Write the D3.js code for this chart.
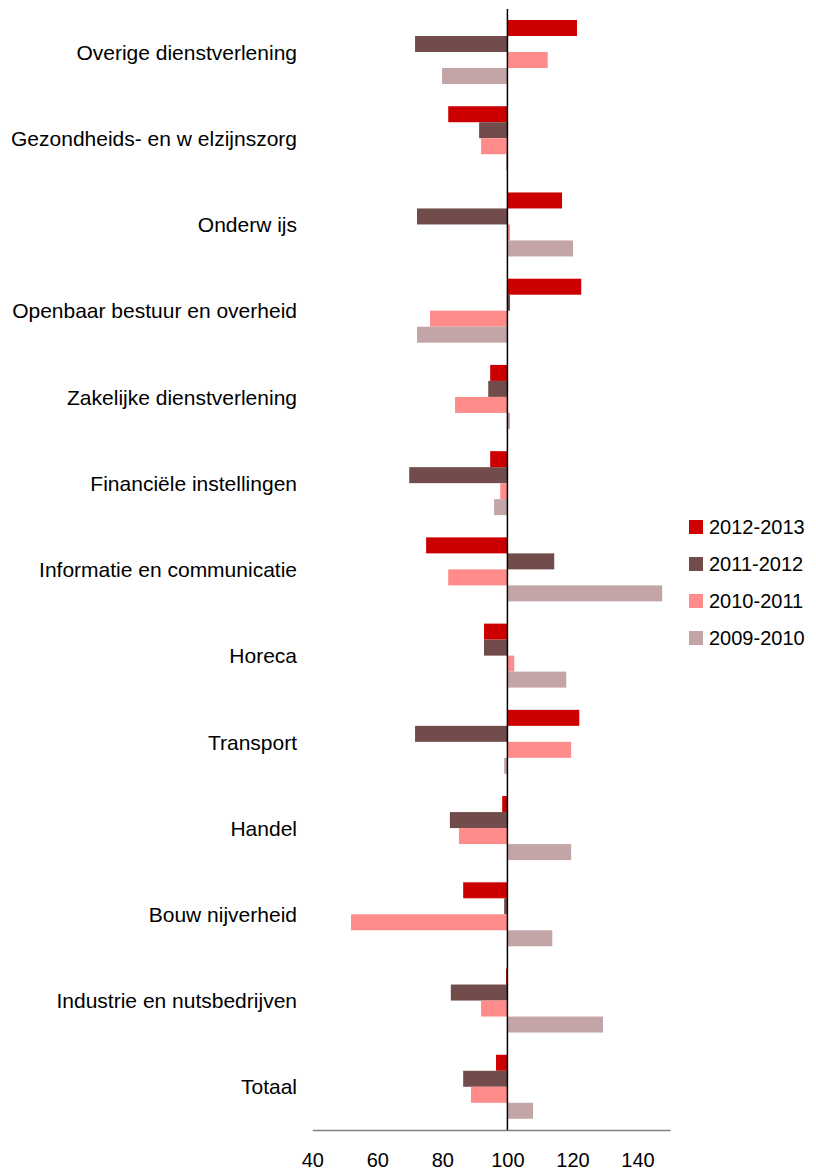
<!DOCTYPE html>
<html>
<head>
<meta charset="utf-8">
<script src="https://cdn.jsdelivr.net/npm/d3@7"></script>
<style>
  html, body { margin: 0; padding: 0; background: #fff; }
  svg { display: block; font-family: "Liberation Sans", Arial, Helvetica, sans-serif; }
</style>
</head>
<body>
<svg id="chart" width="816" height="1174"></svg>
<script>
// Sectors, top to bottom
const categories = [
  "Overige dienstverlening",
  "Gezondheids- en w elzijnszorg",
  "Onderw ijs",
  "Openbaar bestuur en overheid",
  "Zakelijke dienstverlening",
  "Financiële instellingen",
  "Informatie en communicatie",
  "Horeca",
  "Transport",
  "Handel",
  "Bouw nijverheid",
  "Industrie en nutsbedrijven",
  "Totaal"
];

// Periods, in the order the bars are stacked inside each sector
const periods = ["2012-2013", "2011-2012", "2010-2011", "2009-2010"];

// Index values (100 = previous year), one array per period
const v2012_2013 = [121.4, 81.8, 116.8, 122.7, 94.7, 94.7, 75.0, 92.8, 122.1, 98.4, 86.4, 99.6, 96.5];
const v2011_2012 = [71.6, 91.3, 72.2, 100.8, 94.1, 69.8, 114.4, 92.8, 71.6, 82.3, 99.0, 82.6, 86.4];
const v2010_2011 = [112.4, 91.9, 100.8, 76.2, 83.9, 97.8, 81.8, 102.1, 119.6, 85.1, 51.9, 91.9, 88.8];
const v2009_2010 = [79.9, 99.6, 120.2, 72.2, 100.8, 95.9, 147.6, 118.1, 99.0, 119.6, 113.8, 129.4, 107.9];

const tickValues = [40, 60, 80, 100, 120, 140];
const baseline = 100;

const colors = ["#cc0000", "#724b4b", "#ff8b8b", "#c4a5a7"];

const seriesValues = [v2012_2013, v2011_2012, v2010_2011, v2009_2010];
const rows = categories.map((c, i) => ({
  category: c,
  values: periods.map((p, k) => ({ period: p, value: seriesValues[k][i] }))
}));

const svg = d3.select("#chart");

const x = d3.scaleLinear().domain([40, 150]).range([312.3, 670]);
const y = d3.scaleBand().domain(categories).range([9, 1130]).padding(0);
const yInner = d3.scaleBand().domain(periods).range([11, 11 + 64]).padding(0);
const color = d3.scaleOrdinal().domain(periods).range(colors);

// Bars
const groups = svg.append("g").selectAll("g")
  .data(rows)
  .join("g")
  .attr("transform", d => `translate(0,${y(d.category)})`);

groups.selectAll("rect")
  .data(d => d.values)
  .join("rect")
  .attr("x", d => x(Math.min(d.value, baseline)))
  .attr("width", d => Math.abs(x(d.value) - x(baseline)))
  .attr("y", d => yInner(d.period))
  .attr("height", yInner.bandwidth())
  .attr("fill", d => color(d.period));

// Category labels
svg.append("g").selectAll("text")
  .data(categories)
  .join("text")
  .attr("x", 297)
  .attr("y", d => y(d) + y.bandwidth() / 2)
  .attr("dy", "0.36em")
  .attr("text-anchor", "end")
  .attr("font-size", 21)
  .attr("fill", "#000")
  .text(d => d);

// Value axis
const xAxis = d3.axisBottom(x).tickValues(tickValues).tickSize(0).tickPadding(0);
const axisG = svg.append("g")
  .attr("transform", "translate(0,1130)")
  .call(xAxis);
axisG.select(".domain").attr("stroke", "#7f7f7f").attr("stroke-width", 1.5);
axisG.selectAll(".tick text")
  .attr("font-size", 20)
  .attr("font-family", "Liberation Sans, Arial, sans-serif")
  .attr("fill", "#000")
  .attr("dy", 0)
  .attr("y", 37);

// Reference line at 100
svg.append("line")
  .attr("x1", x(baseline)).attr("x2", x(baseline))
  .attr("y1", 9).attr("y2", 1130)
  .attr("stroke", "#000")
  .attr("stroke-width", 1.5);

// Legend
const legend = svg.append("g").attr("transform", "translate(689,520)");
const items = legend.selectAll("g")
  .data(periods)
  .join("g")
  .attr("transform", (d, i) => `translate(0,${i * 37})`);
items.append("rect")
  .attr("width", 14).attr("height", 14)
  .attr("fill", d => color(d));
items.append("text")
  .attr("x", 20).attr("y", 7).attr("dy", "0.36em")
  .attr("font-size", 20)
  .attr("fill", "#000")
  .text(d => d);
</script>
</body>
</html>
